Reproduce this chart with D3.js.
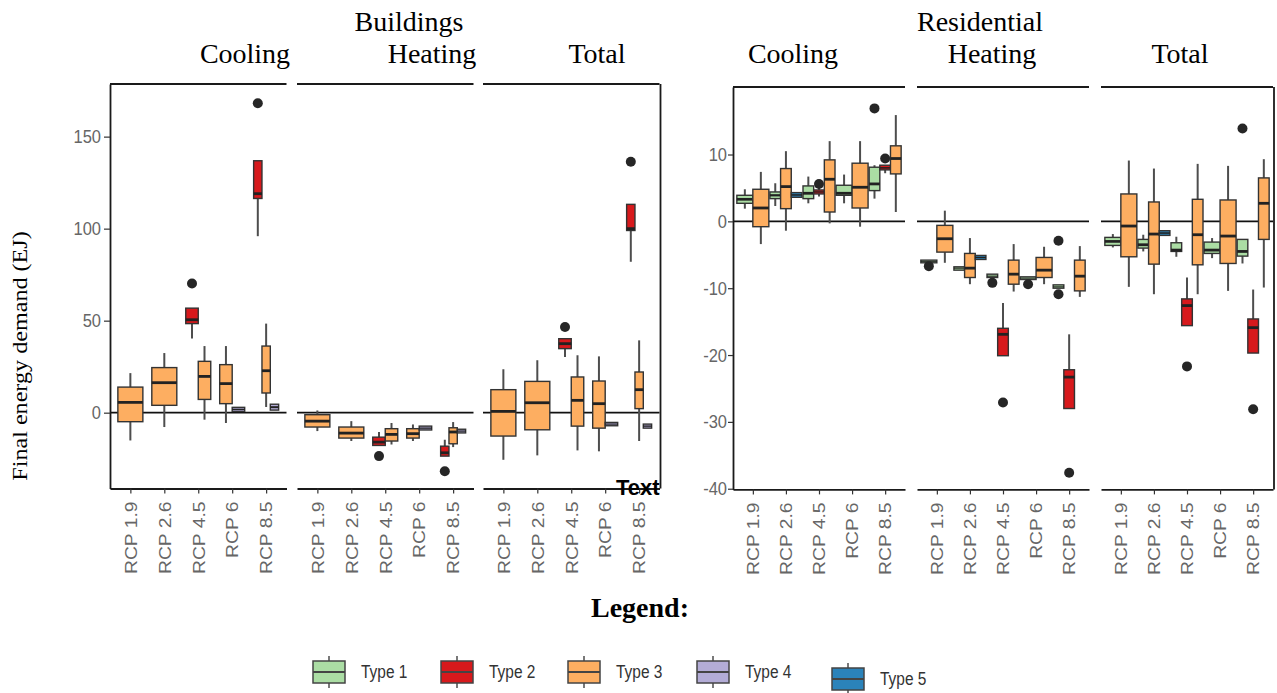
<!DOCTYPE html>
<html>
<head>
<meta charset="utf-8">
<script src="https://cdn.jsdelivr.net/npm/d3@7"></script>
<style>
  body { margin: 0; background: #fff; }
</style>
</head>
<body>
<svg id="chart" width="1277" height="693"></svg>
<script>
const rcps = ["RCP 1.9", "RCP 2.6", "RCP 4.5", "RCP 6", "RCP 8.5"];
const types = ["Type 1", "Type 2", "Type 3", "Type 4", "Type 5"];
const typeColors = ["#abdda4", "#d7191c", "#fdae61", "#b3acd6", "#2b83ba"];
const endUses = ["Cooling", "Heating", "Total"];
const buildingsTicks = [0, 50, 100, 150];
const residentialTicks = [-40, -30, -20, -10, 0, 10];

// [rcp, type index, lower whisker, q1, median, q3, upper whisker, outliers]
const buildingsCooling = [
  ["RCP 1.9", 2, -15.1, -4.9, 5.6, 13.9, 21.5, []],
  ["RCP 2.6", 2, -7.8, 4.0, 16.3, 24.5, 32.4, []],
  ["RCP 4.5", 1, 40.3, 48.4, 50.5, 56.8, 56.8, [70.2]],
  ["RCP 4.5", 2, -3.8, 7.2, 19.7, 27.9, 36.2, []],
  ["RCP 6", 2, -5.6, 4.9, 15.8, 26.1, 36.2, []],
  ["RCP 6", 3, 0.7, 0.7, 1.8, 2.9, 2.9, []],
  ["RCP 8.5", 1, 95.9, 116.4, 119, 136.9, 136.9, [168.1]],
  ["RCP 8.5", 2, 3.1, 10.7, 22.8, 36.2, 48.4, []],
  ["RCP 8.5", 3, 1.4, 1.4, 3.0, 4.6, 4.6, []]
];
const buildingsHeating = [
  ["RCP 1.9", 2, -10, -7.8, -4.6, -1.1, 1.2, []],
  ["RCP 2.6", 2, -15.4, -13.8, -11.1, -7.8, -4.6, []],
  ["RCP 4.5", 1, -17.8, -17.8, -16, -13.3, -10.5, [-23.6]],
  ["RCP 4.5", 2, -17.3, -15.4, -11.8, -8.7, -5.6, []],
  ["RCP 6", 2, -15.4, -13.8, -11.4, -8.7, -6.4, []],
  ["RCP 6", 3, -9.4, -9.4, -8.4, -7.3, -7.3, []],
  ["RCP 8.5", 1, -23.6, -23.6, -21.8, -18.2, -14.7, [-31.8]],
  ["RCP 8.5", 2, -18.7, -16.9, -10.5, -8.2, -5.1, []],
  ["RCP 8.5", 3, -11.0, -11.0, -10, -9.0, -9.0, []]
];
const buildingsTotal = [
  ["RCP 1.9", 2, -25.6, -12.7, 0.7, 12.5, 23.6, []],
  ["RCP 2.6", 2, -23.2, -9.3, 5.4, 17, 28.5, []],
  ["RCP 4.5", 1, 30.3, 34.8, 37.5, 40.2, 40.2, [46.6]],
  ["RCP 4.5", 2, -20.5, -7.3, 6.7, 19.4, 31.2, []],
  ["RCP 6", 2, -21, -8.4, 4.9, 17.2, 30.6, []],
  ["RCP 6", 3, -7.1, -7.1, -6.2, -5.3, -5.3, []],
  ["RCP 8.5", 1, 82, 99, 100, 113.2, 113.2, [136.4]],
  ["RCP 8.5", 2, -15.4, 2.2, 12.5, 22.1, 39.3, []],
  ["RCP 8.5", 3, -8.4, -8.4, -7.3, -6.2, -6.2, []]
];
const residentialCooling = [
  ["RCP 1.9", 0, 1.9, 2.7, 3.3, 3.9, 4.8, []],
  ["RCP 1.9", 2, -3.4, -0.8, 2.0, 4.8, 7.4, []],
  ["RCP 2.6", 0, 2.3, 3.4, 3.9, 4.4, 5.7, []],
  ["RCP 2.6", 2, -1.4, 1.9, 5.2, 7.9, 10.5, []],
  ["RCP 2.6", 4, 3.6, 3.6, 3.95, 4.3, 4.3, []],
  ["RCP 4.5", 0, 2.7, 3.4, 4.2, 5.3, 6.7, []],
  ["RCP 4.5", 1, 3.7, 4.1, 4.4, 4.7, 5.0, [5.6]],
  ["RCP 4.5", 2, -0.3, 1.4, 6.3, 9.2, 12.0, []],
  ["RCP 6", 0, 2.7, 3.9, 4.2, 5.4, 7.0, []],
  ["RCP 6", 2, -0.8, 2.0, 5.1, 8.7, 12.0, []],
  ["RCP 8.5", 0, 3.4, 4.6, 5.6, 8.1, 8.4, [16.9]],
  ["RCP 8.5", 1, 7.2, 7.7, 8.0, 8.4, 8.4, [9.4]],
  ["RCP 8.5", 2, 1.4, 7.1, 9.4, 11.3, 15.9, []]
];
const residentialHeating = [
  ["RCP 1.9", 0, -6.2, -6.2, -6.0, -5.8, -5.8, [-6.7]],
  ["RCP 1.9", 2, -6.2, -4.6, -2.6, -0.6, 1.6, []],
  ["RCP 2.6", 0, -7.3, -7.3, -7.0, -6.8, -6.8, []],
  ["RCP 2.6", 2, -9.4, -8.4, -7.0, -4.8, -2.5, []],
  ["RCP 2.6", 4, -5.7, -5.7, -5.4, -5.1, -5.1, []],
  ["RCP 4.5", 0, -8.4, -8.4, -8.2, -7.9, -7.9, [-9.2]],
  ["RCP 4.5", 1, -20.1, -20.1, -16.9, -16.0, -12.2, [-27.1]],
  ["RCP 4.5", 2, -10.5, -9.4, -7.9, -5.8, -3.4, []],
  ["RCP 6", 0, -8.7, -8.7, -8.5, -8.3, -8.3, [-9.4]],
  ["RCP 6", 2, -9.4, -8.4, -7.3, -5.4, -3.8, []],
  ["RCP 8.5", 0, -10.0, -10.0, -9.8, -9.5, -9.5, [-2.9, -10.9]],
  ["RCP 8.5", 1, -28.0, -28.0, -23.3, -22.2, -16.9, [-37.6]],
  ["RCP 8.5", 2, -11.3, -10.4, -8.2, -5.8, -3.7, []]
];
const residentialTotal = [
  ["RCP 1.9", 0, -3.9, -3.6, -3.0, -2.4, -1.9, []],
  ["RCP 1.9", 2, -9.8, -5.3, -0.7, 4.1, 9.1, []],
  ["RCP 2.6", 0, -4.5, -4.0, -3.5, -2.7, -2.0, []],
  ["RCP 2.6", 2, -10.9, -6.4, -1.9, 2.9, 7.9, []],
  ["RCP 2.6", 4, -2.1, -2.1, -1.75, -1.4, -1.4, []],
  ["RCP 4.5", 0, -5.3, -4.5, -4.3, -3.2, -2.3, []],
  ["RCP 4.5", 1, -15.6, -15.6, -12.6, -11.6, -8.4, [-21.7]],
  ["RCP 4.5", 2, -10.9, -6.5, -2.0, 3.3, 8.6, []],
  ["RCP 6", 0, -5.5, -4.8, -4.3, -3.1, -2.5, []],
  ["RCP 6", 2, -10.4, -6.3, -2.2, 3.2, 8.3, []],
  ["RCP 8.5", 0, -6.3, -5.2, -4.5, -2.7, -2.7, [13.9]],
  ["RCP 8.5", 1, -19.7, -19.7, -15.9, -14.6, -10.2, [-28.1]],
  ["RCP 8.5", 2, -9.9, -2.7, 2.7, 6.5, 9.3, []]
];

const svg = d3.select("#chart");
const serif = "'Liberation Serif', 'DejaVu Serif', serif";
const sans = "'Liberation Sans', Arial, sans-serif";

function drawChart(cfg) {
  const y = d3.scaleLinear().domain(cfg.domain).range([cfg.bottom, cfg.top]);

  cfg.panels.forEach(function(data, i) {
    const x0 = cfg.x0s[i];
    const x = d3.scalePoint().domain(rcps).range([x0, x0 + cfg.width]).padding(0.6);
    const g = svg.append("g");

    // top frame line
    g.append("line")
      .attr("x1", x0).attr("x2", x0 + cfg.width)
      .attr("y1", cfg.top).attr("y2", cfg.top)
      .attr("stroke", "#1a1a1a").attr("stroke-width", 1.8);

    // zero line
    g.append("line")
      .attr("x1", x0).attr("x2", x0 + cfg.width)
      .attr("y1", y(0)).attr("y2", y(0))
      .attr("stroke", "#111").attr("stroke-width", 1.8);

    if (i == cfg.panels.length - 1) {
      g.append("line")
        .attr("x1", x0 + cfg.width + 1).attr("x2", x0 + cfg.width + 1)
        .attr("y1", cfg.top).attr("y2", cfg.bottom)
        .attr("stroke", "#1a1a1a").attr("stroke-width", 1.8);
    }

    // bottom axis
    const xa = g.append("g")
      .attr("transform", "translate(0," + cfg.bottom + ")")
      .call(d3.axisBottom(x).tickSize(5).tickSizeOuter(0));
    xa.select(".domain").attr("stroke", "#1a1a1a").attr("stroke-width", 1.8);
    xa.selectAll(".tick line").attr("stroke", "#333").attr("stroke-width", 1.2);
    xa.selectAll(".tick text")
      .attr("x", 0).attr("y", 0).attr("dy", "0.35em")
      .attr("text-anchor", "end")
      .attr("transform", "translate(0,13) scale(1,1.17) rotate(-90)")
      .attr("font-family", sans).attr("font-size", 16.5)
      .attr("fill", "#666");

    if (i == 0) {
      const ya = g.append("g")
        .attr("transform", "translate(" + x0 + ",0)")
        .call(d3.axisLeft(y).tickValues(cfg.ticks).tickFormat(d => String(d))
          .tickSize(cfg.tickSize).tickPadding(cfg.tickPad).tickSizeOuter(0));
      ya.select(".domain").attr("stroke", "#1a1a1a").attr("stroke-width", 1.8);
      ya.selectAll(".tick line").attr("stroke", "#333").attr("stroke-width", 1.2);
      ya.selectAll(".tick text")
        .attr("transform", "scale(1,1.15)")
        .attr("font-family", sans).attr("font-size", 16.5)
        .attr("fill", "#666");
    }

    // boxes, dodged inside each RCP
    const groups = d3.group(data, d => d[0]);
    groups.forEach(function(rows, rcp) {
      rows = rows.slice().sort((a, b) => a[1] - b[1]);
      const n = rows.length;
      const bw = cfg.groupWidth / n;
      rows.forEach(function(d, j) {
        const cx = x(rcp) - cfg.groupWidth / 2 + (j + 0.5) * bw;
        const left = cx - bw / 2;
        const h = Math.max(1, y(d[3]) - y(d[5]));
        // whiskers
        g.append("line")
          .attr("x1", cx).attr("x2", cx)
          .attr("y1", y(d[6])).attr("y2", y(d[5]))
          .attr("stroke", "#4d4d4d").attr("stroke-width", 2);
        g.append("line")
          .attr("x1", cx).attr("x2", cx)
          .attr("y1", y(d[3])).attr("y2", y(d[2]))
          .attr("stroke", "#4d4d4d").attr("stroke-width", 2);
        g.append("rect")
          .attr("x", left).attr("width", bw)
          .attr("y", y(d[5])).attr("height", h)
          .attr("fill", typeColors[d[1]])
          .attr("stroke", "#333").attr("stroke-width", 1.4);
        g.append("line")
          .attr("x1", left).attr("x2", left + bw)
          .attr("y1", y(d[4])).attr("y2", y(d[4]))
          .attr("stroke", "#222").attr("stroke-width", Math.min(2.8, h / 3));
        d[7].forEach(function(o) {
          g.append("circle")
            .attr("cx", cx).attr("cy", y(o)).attr("r", 5)
            .attr("fill", "#262626");
        });
      });
    });

    // facet label
    g.append("text")
      .attr("x", cfg.titleXs[i]).attr("y", 63)
      .attr("text-anchor", "middle")
      .attr("font-family", serif).attr("font-size", 28)
      .text(endUses[i]);
  });

  svg.append("text")
    .attr("x", cfg.sectorX).attr("y", 31)
    .attr("text-anchor", "middle")
    .attr("font-family", serif).attr("font-size", 28)
    .text(cfg.sector);
}

drawChart({
  sector: "Buildings", sectorX: 409,
  panels: [buildingsCooling, buildingsHeating, buildingsTotal],
  x0s: [110, 297, 483], width: 176.5,
  domain: [-41.2, 178.6], top: 84, bottom: 488.5,
  ticks: buildingsTicks, tickSize: 6, tickPad: 3,
  groupWidth: 25, titleXs: [245, 432, 597]
});

drawChart({
  sector: "Residential", sectorX: 980,
  panels: [residentialCooling, residentialHeating, residentialTotal],
  x0s: [733, 917, 1101], width: 172,
  domain: [-40.1, 20.1], top: 87, bottom: 489.4,
  ticks: residentialTicks, tickSize: 5, tickPad: 1,
  groupWidth: 32, titleXs: [793, 992, 1180]
});

// y axis title
svg.append("text")
  .attr("transform", "translate(27,356) scale(1,1.15) rotate(-90)")
  .attr("text-anchor", "middle")
  .attr("font-family", serif).attr("font-size", 21)
  .text("Final energy demand (EJ)");

// stray annotation
svg.append("text")
  .attr("x", 616).attr("y", 495)
  .attr("font-family", sans).attr("font-weight", "bold").attr("font-size", 22)
  .attr("fill", "#000")
  .text("Text");

// legend
svg.append("text")
  .attr("x", 640).attr("y", 617)
  .attr("text-anchor", "middle")
  .attr("font-family", serif).attr("font-weight", "bold").attr("font-size", 28)
  .text("Legend:");

const keyXs = [313, 441, 568, 697, 832];
const keyYs = [672, 672, 672, 672, 679];
types.forEach(function(t, i) {
  const kx = keyXs[i], ky = keyYs[i];
  const kg = svg.append("g");
  kg.append("line")
    .attr("x1", kx + 16).attr("x2", kx + 16)
    .attr("y1", ky - 16).attr("y2", ky + 16)
    .attr("stroke", "#4d4d4d").attr("stroke-width", 1.5);
  kg.append("rect")
    .attr("x", kx).attr("y", ky - 11).attr("width", 32).attr("height", 22)
    .attr("fill", typeColors[i]).attr("stroke", "#444").attr("stroke-width", 1.5);
  kg.append("line")
    .attr("x1", kx).attr("x2", kx + 32)
    .attr("y1", ky).attr("y2", ky)
    .attr("stroke", "#444").attr("stroke-width", 2);
  kg.append("text")
    .attr("transform", "translate(" + (kx + 48) + "," + ky + ") scale(1,1.15)")
    .attr("dy", "0.35em")
    .attr("font-family", sans).attr("font-size", 15.5)
    .attr("fill", "#333")
    .text(t);
});
</script>
</body>
</html>
